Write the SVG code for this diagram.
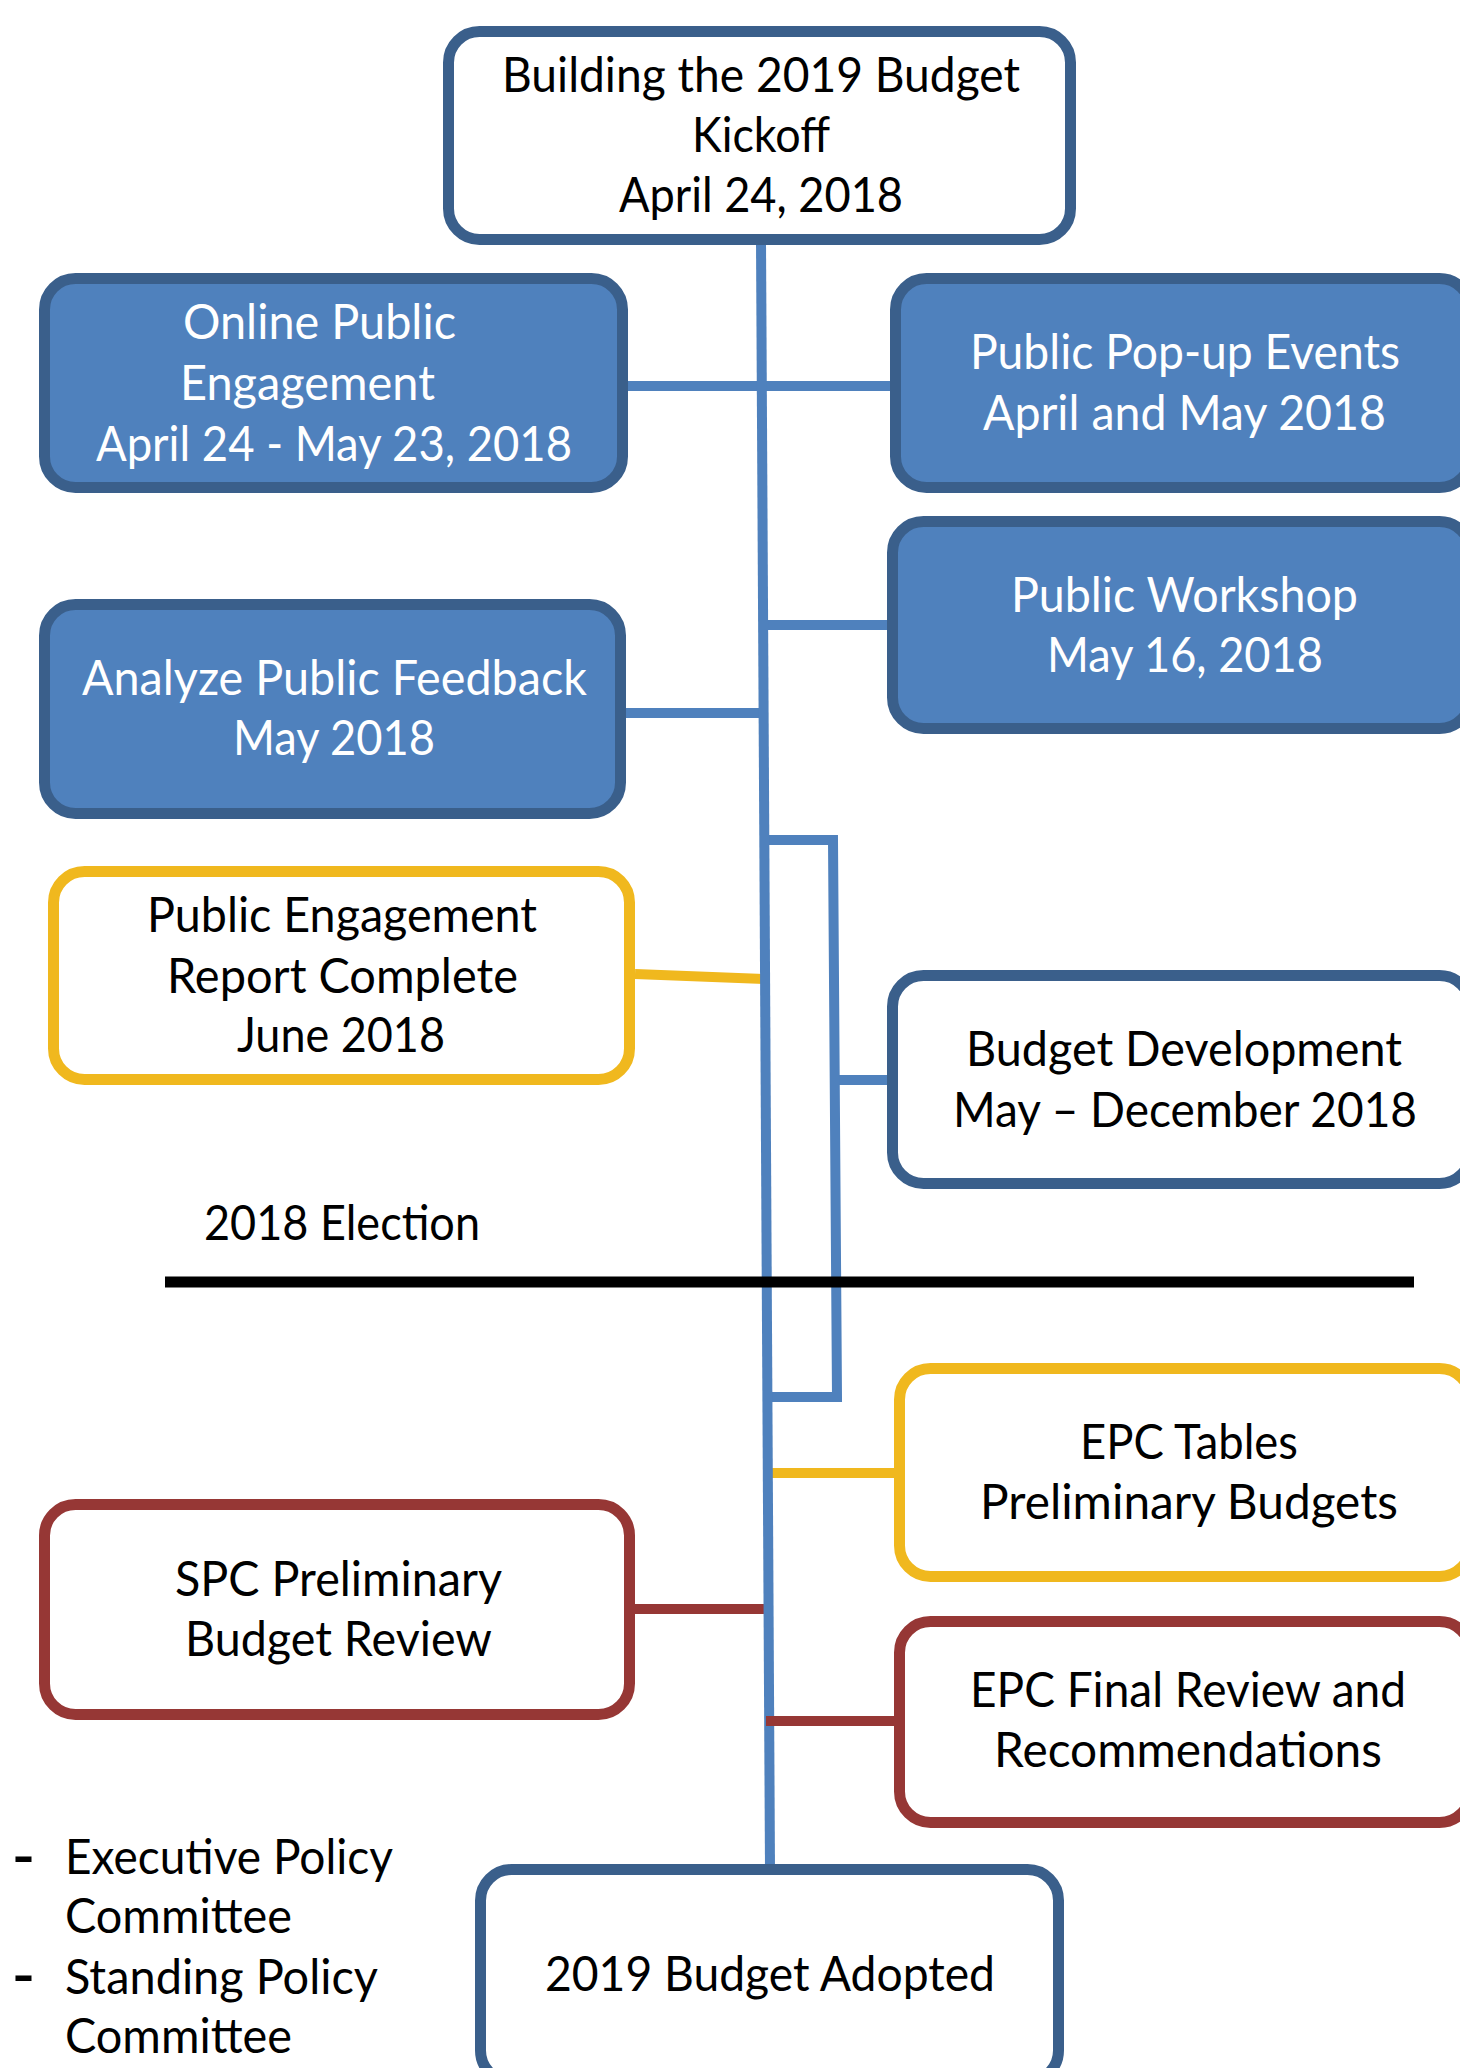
<svg xmlns="http://www.w3.org/2000/svg" width="1460" height="2068" viewBox="0 0 1460 2068">
<style>
text{font-family:Lato,"Liberation Sans","DejaVu Sans",sans-serif;font-size:48px;}
.dk{fill:#000;}
.wt{fill:#fff;}
.dash{font-weight:700;font-size:64px;}
.bx-blue{fill:#4F81BD;stroke:#3A5F8B;stroke-width:11;}
.bx-white{fill:#fff;stroke:#3A5F8B;stroke-width:11;}
.bx-yel{fill:#fff;stroke:#F0B81E;stroke-width:11;}
.bx-red{fill:#fff;stroke:#963735;stroke-width:11;}
.c-blue{fill:none;stroke:#4F81BD;stroke-width:10;}
.c-yel{fill:none;stroke:#F0B81E;stroke-width:10;}
.c-red{fill:none;stroke:#963735;stroke-width:10;}
.c-blk{fill:none;stroke:#000;stroke-width:11;}
</style>
<rect width="1460" height="2068" fill="#fff"/>
<g id="connectors">
  <line class="c-blue" x1="628" y1="386" x2="892" y2="386"/>
  <line class="c-blue" x1="763" y1="625" x2="889" y2="625"/>
  <line class="c-blue" x1="626" y1="713" x2="760" y2="713"/>
  <line class="c-yel" x1="635" y1="974" x2="765" y2="979"/>
  <polyline class="c-blue" points="764,840 833,840 837,1397 767,1397"/>
  <line class="c-blue" x1="837" y1="1080" x2="890" y2="1080"/>
  <line class="c-yel" x1="772" y1="1473" x2="896" y2="1473"/>
  <line class="c-red" x1="635" y1="1609" x2="764" y2="1609"/>
  <line class="c-blue" x1="761" y1="241" x2="770" y2="1870"/>
  <line class="c-red" x1="766" y1="1721" x2="896" y2="1721"/>
  <line class="c-blk" x1="165" y1="1282" x2="1414" y2="1282"/>
</g>
<g id="kickoff">
  <rect class="bx-white" x="448.5" y="31.5" width="622" height="208" rx="31"/>
  <text class="dk" x="502" y="92" textLength="518" lengthAdjust="spacingAndGlyphs">Building the 2019 Budget</text>
  <text class="dk" x="692" y="152" textLength="138" lengthAdjust="spacingAndGlyphs">Kickoff</text>
  <text class="dk" x="619" y="212" textLength="284" lengthAdjust="spacingAndGlyphs">April 24, 2018</text>
</g>
<g id="online">
  <rect class="bx-blue" x="44.5" y="278.5" width="578" height="209" rx="31"/>
  <text class="wt" x="183" y="339" textLength="273" lengthAdjust="spacingAndGlyphs">Online Public</text>
  <text class="wt" x="180" y="400" textLength="255" lengthAdjust="spacingAndGlyphs">Engagement</text>
  <text class="wt" x="96" y="461" textLength="476" lengthAdjust="spacingAndGlyphs">April 24 - May 23, 2018</text>
</g>
<g id="popup">
  <rect class="bx-blue" x="895.5" y="278.5" width="575" height="209" rx="31"/>
  <text class="wt" x="970" y="369" textLength="430" lengthAdjust="spacingAndGlyphs">Public Pop-up Events</text>
  <text class="wt" x="983" y="430" textLength="403" lengthAdjust="spacingAndGlyphs">April and May 2018</text>
</g>
<g id="workshop">
  <rect class="bx-blue" x="892.5" y="521.5" width="578" height="207" rx="31"/>
  <text class="wt" x="1011" y="612" textLength="347" lengthAdjust="spacingAndGlyphs">Public Workshop</text>
  <text class="wt" x="1047" y="672" textLength="276" lengthAdjust="spacingAndGlyphs">May 16, 2018</text>
</g>
<g id="analyze">
  <rect class="bx-blue" x="44.5" y="604.5" width="576" height="209" rx="31"/>
  <text class="wt" x="82" y="695" textLength="505" lengthAdjust="spacingAndGlyphs">Analyze Public Feedback</text>
  <text class="wt" x="233" y="755" textLength="202" lengthAdjust="spacingAndGlyphs">May 2018</text>
</g>
<g id="report">
  <rect class="bx-yel" x="53.5" y="871.5" width="576" height="208" rx="31"/>
  <text class="dk" x="147" y="932" textLength="390" lengthAdjust="spacingAndGlyphs">Public Engagement</text>
  <text class="dk" x="167" y="993" textLength="351" lengthAdjust="spacingAndGlyphs">Report Complete</text>
  <text class="dk" x="237" y="1052" textLength="208" lengthAdjust="spacingAndGlyphs">June 2018</text>
</g>
<g id="budgetdev">
  <rect class="bx-white" x="892.5" y="975.5" width="578" height="208" rx="31"/>
  <text class="dk" x="966" y="1066" textLength="436" lengthAdjust="spacingAndGlyphs">Budget Development</text>
  <text class="dk" x="953" y="1127" textLength="464" lengthAdjust="spacingAndGlyphs">May – December 2018</text>
</g>
<g id="election">
  <text class="dk" x="204" y="1240" textLength="276" lengthAdjust="spacingAndGlyphs">2018 Election</text>
</g>
<g id="epctables">
  <rect class="bx-yel" x="899.5" y="1368.5" width="571" height="208" rx="31"/>
  <text class="dk" x="1080" y="1459" textLength="218" lengthAdjust="spacingAndGlyphs">EPC Tables</text>
  <text class="dk" x="980" y="1519" textLength="418" lengthAdjust="spacingAndGlyphs">Preliminary Budgets</text>
</g>
<g id="spc">
  <rect class="bx-red" x="44.5" y="1504.5" width="585" height="210" rx="31"/>
  <text class="dk" x="175" y="1596" textLength="327" lengthAdjust="spacingAndGlyphs">SPC Preliminary</text>
  <text class="dk" x="185" y="1656" textLength="307" lengthAdjust="spacingAndGlyphs">Budget Review</text>
</g>
<g id="epcfinal">
  <rect class="bx-red" x="899.5" y="1621.5" width="571" height="201" rx="31"/>
  <text class="dk" x="970" y="1707" textLength="436" lengthAdjust="spacingAndGlyphs">EPC Final Review and</text>
  <text class="dk" x="994" y="1767" textLength="388" lengthAdjust="spacingAndGlyphs">Recommendations</text>
</g>
<g id="legend">
  <text class="dk dash" x="12" y="1878" textLength="23" lengthAdjust="spacingAndGlyphs">–</text>
  <text class="dk" x="65" y="1874" textLength="328" lengthAdjust="spacingAndGlyphs">Executive Policy</text>
  <text class="dk" x="65" y="1933" textLength="227" lengthAdjust="spacingAndGlyphs">Committee</text>
  <text class="dk dash" x="12" y="1997" textLength="23" lengthAdjust="spacingAndGlyphs">–</text>
  <text class="dk" x="65" y="1994" textLength="313" lengthAdjust="spacingAndGlyphs">Standing Policy</text>
  <text class="dk" x="65" y="2053" textLength="227" lengthAdjust="spacingAndGlyphs">Committee</text>
</g>
<g id="adopted">
  <rect class="bx-white" x="480.5" y="1869.5" width="578" height="212" rx="31"/>
  <text class="dk" x="545" y="1991" textLength="450" lengthAdjust="spacingAndGlyphs">2019 Budget Adopted</text>
</g>
</svg>
